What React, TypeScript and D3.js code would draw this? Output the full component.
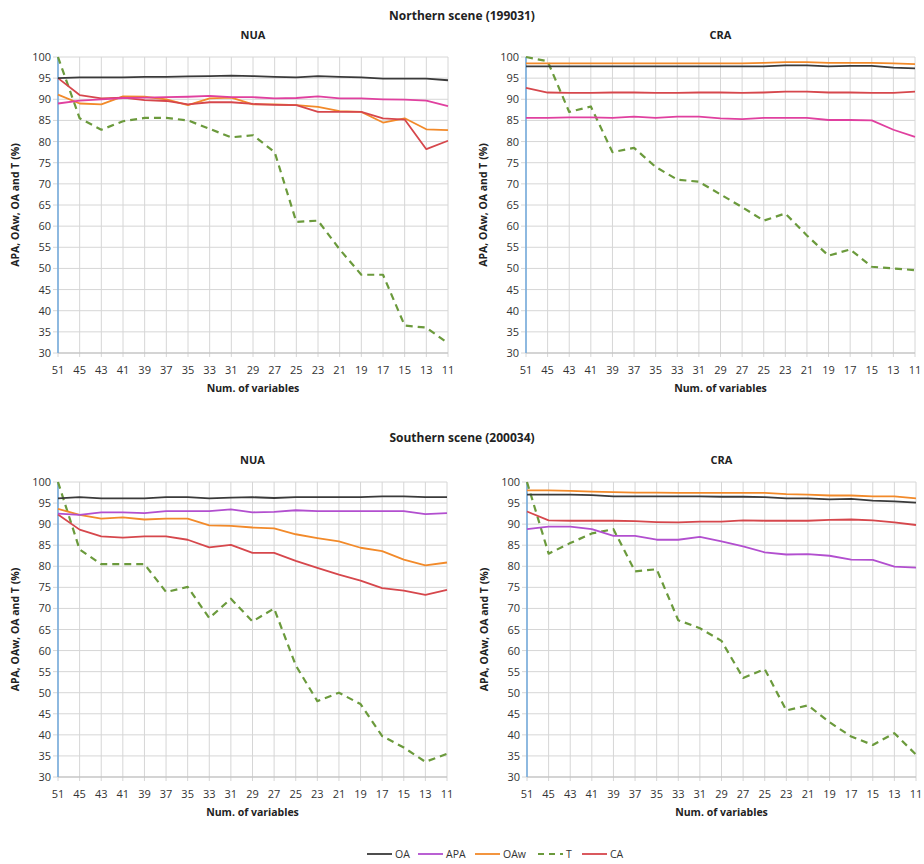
import React from "react";
import * as d3 from "d3";

const categories = [51, 45, 43, 41, 39, 37, 35, 33, 31, 29, 27, 25, 23, 21, 19, 17, 15, 13, 11];
const yTicks = [30, 35, 40, 45, 50, 55, 60, 65, 70, 75, 80, 85, 90, 95, 100];
const seriesNames = ["OA", "APA", "OAw", "T", "CA"];

// Northern scene, NUA
const nNUA_OA = [95, 95.2, 95.2, 95.2, 95.3, 95.3, 95.4, 95.5, 95.6, 95.5, 95.3, 95.2, 95.5, 95.3, 95.2, 94.9, 94.9, 94.9, 94.5];
const nNUA_APA = [89, 89.7, 90, 90.3, 90.4, 90.5, 90.6, 90.8, 90.5, 90.5, 90.2, 90.3, 90.7, 90.2, 90.2, 90, 89.9, 89.7, 88.4];
const nNUA_OAw = [91.1, 89, 88.8, 90.7, 90.6, 90, 88.6, 90.2, 90.4, 88.8, 88.8, 88.6, 88.2, 87.2, 87, 84.5, 85.5, 82.9, 82.7];
const nNUA_T = [100, 85.5, 82.8, 84.8, 85.6, 85.6, 85, 83, 81, 81.5, 77.5, 61, 61.3, 54.5, 48.5, 48.5, 36.5, 36, 32.3];
const nNUA_CA = [95, 91, 90.2, 90.4, 89.8, 89.6, 88.8, 89.3, 89.3, 88.9, 88.7, 88.6, 87, 87, 87, 85.5, 85.2, 78.2, 80.2];

// Northern scene, CRA
const nCRA_OA = [97.8, 97.8, 97.8, 97.8, 97.8, 97.8, 97.8, 97.8, 97.8, 97.8, 97.8, 97.8, 98, 98, 97.8, 97.9, 97.9, 97.5, 97.3];
const nCRA_APA = [85.6, 85.6, 85.7, 85.7, 85.6, 85.9, 85.6, 85.9, 85.9, 85.5, 85.3, 85.6, 85.6, 85.6, 85.1, 85.1, 85, 82.8, 81.1];
const nCRA_OAw = [98.5, 98.5, 98.5, 98.5, 98.5, 98.5, 98.5, 98.5, 98.5, 98.5, 98.5, 98.6, 98.8, 98.8, 98.6, 98.6, 98.6, 98.5, 98.3];
const nCRA_T = [100, 99, 87, 88.3, 77.5, 78.5, 74, 71, 70.5, 67.5, 64.5, 61.3, 63, 57.8, 53, 54.5, 50.4, 50, 49.6];
const nCRA_CA = [92.7, 91.6, 91.5, 91.5, 91.6, 91.6, 91.5, 91.5, 91.6, 91.6, 91.5, 91.6, 91.8, 91.8, 91.6, 91.6, 91.5, 91.5, 91.8];

// Southern scene, NUA
const sNUA_OA = [96.1, 96.4, 96.1, 96.1, 96.1, 96.4, 96.4, 96.1, 96.3, 96.4, 96.2, 96.4, 96.4, 96.4, 96.4, 96.6, 96.6, 96.4, 96.4];
const sNUA_APA = [92.5, 92.2, 92.8, 92.8, 92.6, 93.1, 93.1, 93.1, 93.5, 92.8, 92.9, 93.3, 93.1, 93.1, 93.1, 93.1, 93.1, 92.4, 92.6];
const sNUA_OAw = [93.6, 92.2, 91.3, 91.6, 91.1, 91.3, 91.3, 89.7, 89.6, 89.2, 89, 87.6, 86.7, 85.9, 84.4, 83.6, 81.6, 80.2, 80.9];
const sNUA_T = [100, 84, 80.5, 80.5, 80.5, 73.9, 75.1, 67.7, 72.3, 66.9, 70, 56.5, 48, 50, 47.3, 39.7, 37, 33.6, 35.5];
const sNUA_CA = [92.3, 88.7, 87.1, 86.8, 87.1, 87.1, 86.3, 84.5, 85.1, 83.2, 83.2, 81.3, 79.6, 78, 76.6, 74.8, 74.2, 73.2, 74.4];

// Southern scene, CRA
const sCRA_OA = [97, 97, 97, 96.9, 96.6, 96.6, 96.6, 96.6, 96.6, 96.5, 96.5, 96.4, 96.1, 96.1, 95.9, 96, 95.6, 95.4, 95.1];
const sCRA_APA = [88.8, 89.4, 89.4, 88.8, 87.2, 87.2, 86.3, 86.3, 87, 85.9, 84.7, 83.3, 82.8, 82.9, 82.5, 81.6, 81.5, 79.9, 79.7];
const sCRA_OAw = [98, 98, 97.9, 97.7, 97.6, 97.5, 97.5, 97.4, 97.4, 97.4, 97.4, 97.4, 97.1, 97, 96.8, 96.8, 96.6, 96.6, 96.1];
const sCRA_T = [100, 83, 85.5, 87.8, 88.8, 78.8, 79.3, 67.2, 65.3, 62.3, 53.5, 55.6, 45.8, 47, 43, 39.6, 37.6, 40.4, 35.3];
const sCRA_CA = [93, 90.9, 90.8, 90.8, 90.8, 90.7, 90.5, 90.4, 90.6, 90.6, 90.9, 90.8, 90.8, 90.8, 91, 91.1, 90.9, 90.4, 89.8];

const sceneTitles = ["Northern scene (199031)", "Southern scene (200034)"];
const panelTitles = ["NUA", "CRA", "NUA", "CRA"];
const xTitle = "Num. of variables";
const yTitle = "APA, OAw, OA and T (%)";

const COLORS: Record<string, string> = {
  OA: "#3a3a3a",
  APA: "#b24fcf",
  OAw: "#f28a2a",
  T: "#6b9a3c",
  CA: "#d6474c",
};
const APA_TOP = "#e0409f";

const FONT = "'Open Sans', 'DejaVu Sans', sans-serif";

type Panel = {
  title: string;
  left: number;
  right: number;
  top: number;
  bottom: number;
  data: Record<string, number[]>;
  apaColor: string;
};

const panels: Panel[] = [
  { title: panelTitles[0], left: 58, right: 448, top: 57, bottom: 353, apaColor: APA_TOP,
    data: { OA: nNUA_OA, APA: nNUA_APA, OAw: nNUA_OAw, T: nNUA_T, CA: nNUA_CA } },
  { title: panelTitles[1], left: 526, right: 915, top: 57, bottom: 353, apaColor: APA_TOP,
    data: { OA: nCRA_OA, APA: nCRA_APA, OAw: nCRA_OAw, T: nCRA_T, CA: nCRA_CA } },
  { title: panelTitles[2], left: 58, right: 447, top: 482, bottom: 777, apaColor: COLORS.APA,
    data: { OA: sNUA_OA, APA: sNUA_APA, OAw: sNUA_OAw, T: sNUA_T, CA: sNUA_CA } },
  { title: panelTitles[3], left: 527, right: 916, top: 482, bottom: 777, apaColor: COLORS.APA,
    data: { OA: sCRA_OA, APA: sCRA_APA, OAw: sCRA_OAw, T: sCRA_T, CA: sCRA_CA } },
];

const drawOrder = ["T", "OAw", "CA", "APA", "OA"];

function ChartPanel({ p }: { p: Panel }) {
  const x = d3.scalePoint<number>().domain(categories).range([p.left, p.right]).padding(0);
  const y = d3.scaleLinear().domain([30, 100]).range([p.bottom, p.top]);
  const line = (vals: number[]) =>
    d3.line<number>().x((_, i) => x(categories[i]) as number).y((v) => y(v))(vals) || "";
  const cx = (p.left + p.right) / 2;
  const cy = (p.top + p.bottom) / 2;
  return (
    <g>
      <text x={cx} y={p.top - 18} textAnchor="middle" fontFamily={FONT} fontWeight="bold" fontSize={11} fill="#222">
        {p.title}
      </text>
      {yTicks.map((t) => (
        <g key={"y" + t}>
          <line x1={p.left - 5} x2={p.right} y1={y(t)} y2={y(t)} stroke="#d6d6d6" strokeWidth={1} />
          <text x={p.left - 7} y={y(t) + 4} textAnchor="end" fontFamily={FONT} fontSize={11} fill="#333">
            {t}
          </text>
        </g>
      ))}
      {categories.map((c) => (
        <g key={"x" + c}>
          <line x1={x(c)} x2={x(c)} y1={p.top} y2={p.bottom + 4} stroke="#d6d6d6" strokeWidth={1} />
          <text x={x(c)} y={p.bottom + 21} textAnchor="middle" fontFamily={FONT} fontSize={11} fill="#333">
            {c}
          </text>
        </g>
      ))}
      <line x1={p.left} x2={p.right} y1={p.bottom} y2={p.bottom} stroke="#bdbdbd" strokeWidth={1} />
      <line x1={p.left} x2={p.left} y1={p.top} y2={p.bottom} stroke="#6fa8dc" strokeWidth={1.5} />
      {drawOrder.map((s) => (
        <path
          key={s}
          d={line(p.data[s])}
          fill="none"
          stroke={s === "APA" ? p.apaColor : COLORS[s]}
          strokeWidth={s === "T" ? 2.2 : 1.8}
          strokeDasharray={s === "T" ? "7,5" : undefined}
          strokeLinejoin="round"
        />
      ))}
      <text x={cx} y={p.bottom + 39} textAnchor="middle" fontFamily={FONT} fontWeight="bold" fontSize={10.5} fill="#222">
        {xTitle}
      </text>
      <text
        transform={`translate(${p.left - 39},${cy}) rotate(-90)`}
        textAnchor="middle"
        fontFamily={FONT}
        fontWeight="bold"
        fontSize={10.5}
        fill="#222"
      >
        {yTitle}
      </text>
    </g>
  );
}

const legendX = [367, 418, 475, 538, 582];

export default function App() {
  return (
    <svg width={924} height={864} style={{ position: "absolute", left: 0, top: 0, background: "#fff" }}>
      <rect width={924} height={864} fill="#fff" />
      <text x={462} y={20} textAnchor="middle" fontFamily={FONT} fontWeight="bold" fontSize={12} fill="#222">
        {sceneTitles[0]}
      </text>
      <text x={462} y={442} textAnchor="middle" fontFamily={FONT} fontWeight="bold" fontSize={12} fill="#222">
        {sceneTitles[1]}
      </text>
      {panels.map((p, i) => (
        <ChartPanel key={i} p={p} />
      ))}
      {seriesNames.map((s, i) => (
        <g key={s}>
          <line
            x1={legendX[i]}
            x2={legendX[i] + 25}
            y1={854}
            y2={854}
            stroke={COLORS[s]}
            strokeWidth={s === "T" ? 2 : 1.8}
            strokeDasharray={s === "T" ? "6,5" : undefined}
          />
          <text x={legendX[i] + 28} y={858} fontFamily={FONT} fontSize={10.5} fill="#333">
            {s}
          </text>
        </g>
      ))}
    </svg>
  );
}
